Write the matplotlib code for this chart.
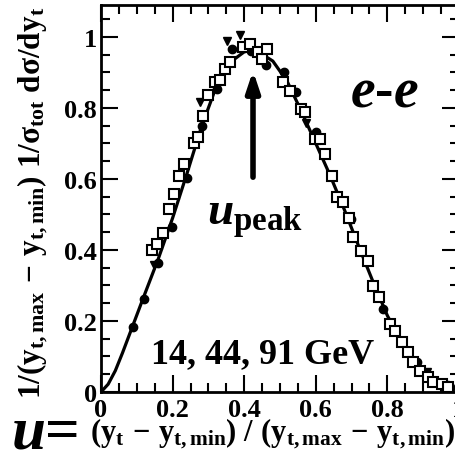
import numpy as np
import matplotlib.pyplot as plt
from matplotlib.ticker import MultipleLocator, FuncFormatter

plt.rcParams['font.family'] = ['Liberation Serif', 'DejaVu Serif']
plt.rcParams['font.weight'] = 'bold'
plt.rcParams['mathtext.fontset'] = 'custom'
plt.rcParams['mathtext.rm'] = 'Liberation Serif:bold'
plt.rcParams['mathtext.bf'] = 'Liberation Serif:bold'
plt.rcParams['mathtext.it'] = 'Liberation Serif:bold:italic'

# theory curve
curve_u = [0.0, 0.02, 0.04, 0.06, 0.09, 0.12, 0.16, 0.20, 0.24, 0.28, 0.32, 0.36,
           0.40, 0.42, 0.44, 0.48, 0.52, 0.56, 0.60, 0.64, 0.68, 0.72, 0.76,
           0.80, 0.84, 0.88, 0.92, 0.96, 1.0]
curve_v = [0.0, 0.022, 0.06, 0.11, 0.19, 0.27, 0.375, 0.49, 0.615, 0.745, 0.855, 0.928,
           0.958, 0.962, 0.958, 0.932, 0.875, 0.79, 0.70, 0.61, 0.513, 0.41, 0.31,
           0.215, 0.14, 0.083, 0.043, 0.016, 0.004]

# filled circles
circ_u = [0.089, 0.12, 0.158, 0.198, 0.24, 0.282, 0.324, 0.366, 0.42, 0.46, 0.51,
          0.545, 0.60, 0.642, 0.699, 0.743, 0.788, 0.84, 0.883, 0.947, 0.975]
circ_v = [0.183, 0.262, 0.363, 0.465, 0.603, 0.748, 0.854, 0.966, 0.96, 0.92, 0.90,
          0.845, 0.732, 0.609, 0.487, 0.369, 0.234, 0.141, 0.085, 0.022, 0.014]

# filled triangles
tri_u = [0.148, 0.277, 0.352, 0.388, 0.573, 0.91, 0.96]
tri_v = [0.357, 0.817, 0.99, 1.005, 0.757, 0.056, 0.02]

# open squares
sq_u = [0.142, 0.157, 0.174, 0.19, 0.204, 0.218, 0.232, 0.26, 0.271, 0.285, 0.30,
        0.318, 0.332, 0.346, 0.36, 0.397, 0.416, 0.438, 0.45, 0.463, 0.508, 0.528,
        0.56, 0.57, 0.598, 0.612, 0.626, 0.645, 0.659, 0.676, 0.693, 0.704, 0.726,
        0.746, 0.76, 0.777, 0.807, 0.821, 0.84, 0.858, 0.872, 0.891, 0.913, 0.927,
        0.952, 0.97]
sq_v = [0.40, 0.418, 0.448, 0.515, 0.558, 0.609, 0.642, 0.70, 0.718, 0.777, 0.836,
        0.874, 0.88, 0.91, 0.93, 0.972, 0.98, 0.957, 0.938, 0.966, 0.873, 0.848,
        0.797, 0.79, 0.713, 0.713, 0.67, 0.608, 0.549, 0.535, 0.49, 0.437, 0.397,
        0.369, 0.299, 0.268, 0.192, 0.172, 0.141, 0.113, 0.085, 0.059, 0.042, 0.028,
        0.022, 0.014]

fig = plt.figure(figsize=(4.56, 4.64), dpi=100)
ax = fig.add_axes([101 / 456, 71 / 464, 358 / 456, 387 / 464])

ax.plot(curve_u, curve_v, color='black', lw=2.3, zorder=2)
ax.plot(circ_u, circ_v, 'o', color='black', ms=6, zorder=3)
ax.plot(tri_u, tri_v, 'v', color='black', ms=6, zorder=3)
ax.plot(sq_u, sq_v, 's', mfc='white', mec='black', mew=1.5, ms=7, zorder=4)

ax.set_xlim(0, 1)
ax.set_ylim(0, 1.09)
for s in ax.spines.values():
    s.set_linewidth(2)

fmt = FuncFormatter(lambda v, p: '%g' % round(v, 2))
ax.xaxis.set_major_locator(MultipleLocator(0.2))
ax.xaxis.set_minor_locator(MultipleLocator(0.05))
ax.yaxis.set_major_locator(MultipleLocator(0.2))
ax.yaxis.set_minor_locator(MultipleLocator(0.05))
ax.xaxis.set_major_formatter(fmt)
ax.yaxis.set_major_formatter(fmt)
ax.tick_params(which='both', direction='in', top=True, right=True, width=1.5)
ax.tick_params(which='major', length=12, labelsize=19)
ax.tick_params(which='minor', length=6.5)
ax.tick_params(axis='x', pad=4)
ax.tick_params(axis='y', pad=3)

ax.annotate('', xy=(0.4246, 0.905), xytext=(0.4246, 0.605),
            arrowprops=dict(arrowstyle='-|>,head_length=1.2,head_width=0.4',
                            lw=4, color='black', shrinkA=0, shrinkB=0))

ax.text(0.79, 0.845, r'$\mathit{e}$-$\mathit{e}$', fontsize=40, ha='center', va='center')
ax.text(0.43, 0.49, r'$\mathit{u}_{\mathrm{peak}}$', fontsize=34, ha='center', va='center')
ax.text(0.45, 0.107, '14, 44, 91 GeV', fontsize=26, fontweight='bold',
        ha='center', va='center')

fig.text(0.072, 0.563,
         r'$\mathrm{1/(y_{t,max}\,-\,y_{t,min})\ 1/σ_{tot}\ dσ/dy_t}$',
         rotation=90, fontsize=22.5, ha='center', va='center')
fig.text(0.025, 0.005, r'$\mathit{u}$=', fontsize=44, ha='left', va='bottom')
fig.text(0.197, 0.028,
         r'$\mathrm{(y_t\,-\,y_{t,min})\ /\ (y_{t,max}\,-\,y_{t,min})}$',
         fontsize=22, ha='left', va='bottom')

fig.savefig('out.png', dpi=100)
